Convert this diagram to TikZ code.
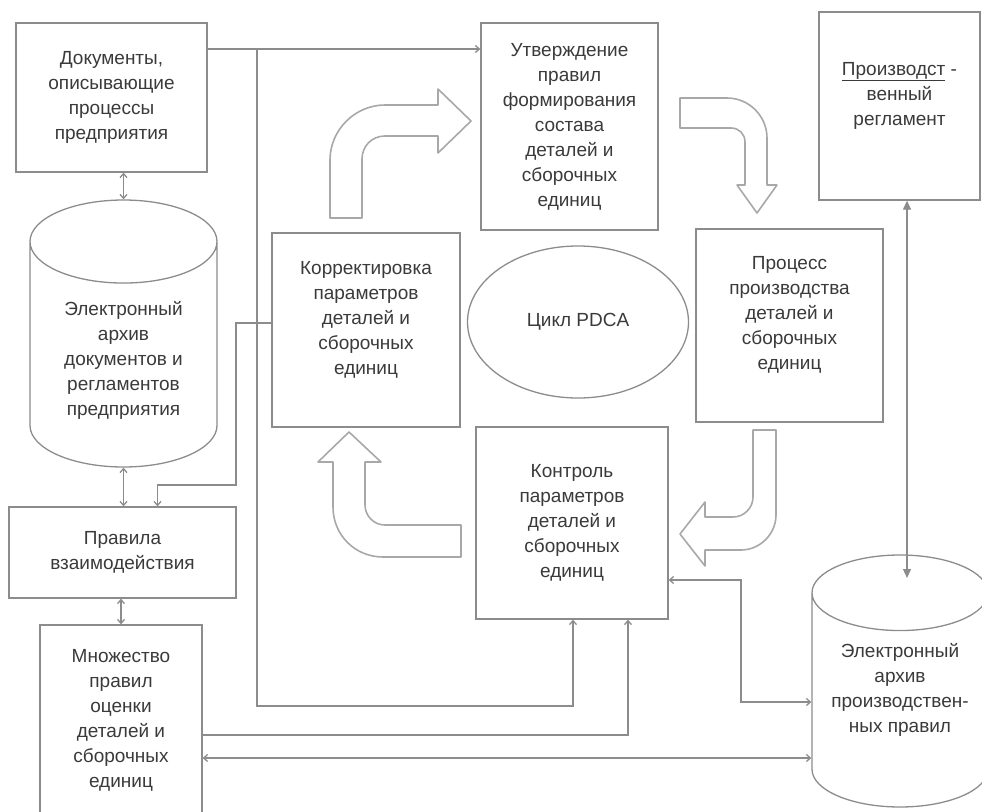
\documentclass[tikz,border=0pt]{standalone}
\usepackage{fontspec}
\setmainfont{Liberation Sans}
\usetikzlibrary{shapes.geometric,arrows.meta,calc}
\definecolor{linegray}{HTML}{8C8C8C}
\definecolor{textgray}{HTML}{3A3A3A}
\definecolor{shapegray}{HTML}{A8A8A8}

\begin{document}
\begin{tikzpicture}[x=1pt,y=-1pt,
  >={Straight Barb[length=4pt,width=7pt]},
  box/.style={draw=linegray,line width=1.3pt,align=center,text=textgray,
    inner sep=0pt,font=\fontsize{19}{25}\selectfont},
  archive/.style={box,cylinder,shape border rotate=90,anchor=shape center},
  conn/.style={draw=linegray,line width=1.3pt},
  bigarrow/.style={draw=shapegray,line width=1.6pt,line join=round},
  bigtips/.style={{Triangle[length=9pt,width=8pt]}-{Triangle[length=9pt,width=8pt]}}]
\useasboundingbox (0,0) rectangle (982,811);
% boxes
\node[box,minimum width=191pt,minimum height=149pt] (docs) at (111.5,97.5)
  {Документы,\\описывающие\\процессы\\предприятия};
\node[box,minimum width=177pt,minimum height=207pt] (approve) at (569.5,126.5)
  {Утверждение\\правил\\формирования\\состава\\деталей и\\сборочных\\единиц};
\node[box,minimum width=161pt,minimum height=188pt] (reglament) at (899.5,106)
  {\underline{Производст} -\\венный\\регламент\\~};
\node[box,minimum width=188pt,minimum height=194pt] (correct) at (366,330)
  {Корректировка\\параметров\\деталей и\\сборочных\\единиц\\~};
\node[box,ellipse,minimum width=221pt,minimum height=152pt] (pdca) at (578,322)
  {Цикл PDCA};
\node[box,minimum width=187pt,minimum height=193pt] (process) at (789.5,325.5)
  {Процесс\\производства\\деталей и\\сборочных\\единиц\\~};
\node[box,minimum width=192pt,minimum height=192pt] (control) at (572,523)
  {Контроль\\параметров\\деталей и\\сборочных\\единиц};
\node[box,minimum width=227pt,minimum height=91pt] (rules) at (122.5,552.5)
  {Правила\\взаимодействия};
\node[box,minimum width=162pt,minimum height=190pt] (evalset) at (121,720)
  {Множество\\правил\\оценки\\деталей и\\сборочных\\единиц};
% archives
\node[archive,aspect=0.70,minimum width=187pt,minimum height=267pt] (arch1) at (123.5,333.5)
  {~\\Электронный\\архив\\документов и\\регламентов\\предприятия};
\node[archive,aspect=0.55,minimum width=176pt,minimum height=252pt] (arch2) at (900,681)
  {Электронный\\архив\\производствен-\\ных правил\\~};
% junction points of the connectors
\coordinate (j1) at (257,49);
\coordinate (c1) at (573,706);
\coordinate (c2) at (236,485);
\coordinate (d1) at (628,735);
\coordinate (e1) at (500,758);
\coordinate (f1) at (741,702);
\coordinate (g1) at (907,578);
% connectors
\draw[conn,<->] (arch1.north |- docs.south) -- (arch1.north);
\draw[conn,<->] (arch1.south) -- (arch1.south |- rules.north);
\draw[conn,<->] (evalset.north |- rules.south) -- (evalset.north);
\draw[conn,->] (docs.east |- j1) -- (approve.west |- j1);
\draw[conn,->] (j1) |- (c1) -- (c1 |- control.south);
\draw[conn,->] ([yshift=7pt]correct.west) -| (c2) -| ([xshift=35pt]rules.north);
\draw[conn,->] (evalset.east |- d1) -| (d1 |- control.south);
\draw[conn,<->] (evalset.east |- e1) -- (arch2.west |- e1);
\draw[conn,<->] ([yshift=-57pt]control.east) -| (f1) |- (arch2.west |- f1);
\draw[conn,bigtips] (reglament.south -| g1) -- (g1);
% the PDCA block arrows
\draw[bigarrow] (330,218) -- (330,160) .. controls (330,130) and (355,105) .. (385,105)
  -- (438,105) -- (438,89) -- (471,121) -- (438,153) -- (438,136) -- (385,136)
  .. controls (372,136) and (362,146) .. (362,159) -- (362,218) -- cycle;
\draw[bigarrow] (680,98) -- (727,98) .. controls (749,98) and (767,116) .. (767,138)
  -- (767,185) -- (777,185) -- (757,213) -- (737,185) -- (745,185) -- (745,142)
  .. controls (745,134) and (739,128) .. (731,128) -- (680,128) -- cycle;
\draw[bigarrow] (753,430) -- (776,430) -- (776,515) .. controls (776,534) and (760,550) .. (741,550)
  -- (705,550) -- (705,566) -- (680,534) -- (705,502) -- (705,517) -- (733,517)
  .. controls (744,517) and (753,508) .. (753,497) -- cycle;
\draw[bigarrow] (461,557) -- (383,557) .. controls (355,557) and (333,535) .. (333,507)
  -- (333,462) -- (318,462) -- (349,432) -- (381,462) -- (365,462) -- (365,505)
  .. controls (365,516) and (374,525) .. (385,525) -- (461,525) -- cycle;
\end{tikzpicture}
\end{document}
